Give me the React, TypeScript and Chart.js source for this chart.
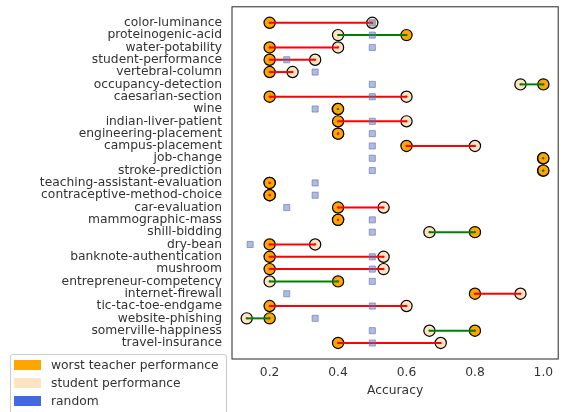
import React, { useEffect, useRef } from 'react';
import Chart from 'chart.js/auto';

const categories = [
  'color-luminance', 'proteinogenic-acid', 'water-potability', 'student-performance',
  'vertebral-column', 'occupancy-detection', 'caesarian-section', 'wine',
  'indian-liver-patient', 'engineering-placement', 'campus-placement', 'job-change',
  'stroke-prediction', 'teaching-assistant-evaluation', 'contraceptive-method-choice',
  'car-evaluation', 'mammographic-mass', 'shill-bidding', 'dry-bean',
  'banknote-authentication', 'mushroom', 'entrepreneur-competency', 'internet-firewall',
  'tic-tac-toe-endgame', 'website-phishing', 'somerville-happiness', 'travel-insurance',
];

const teacherAcc = [
  0.2, 0.6, 0.2, 0.2, 0.2, 1.0, 0.2, 0.4, 0.4, 0.4, 0.6, 1.0, 1.0, 0.2,
  0.2, 0.4, 0.4, 0.8, 0.2, 0.2, 0.2, 0.4, 0.8, 0.2, 0.2, 0.8, 0.4,
];

const studentAcc = [
  0.5, 0.4, 0.4, 0.333, 0.267, 0.933, 0.6, 0.399, 0.6, 0.4, 0.8, 0.999, 0.999, 0.2,
  0.2, 0.533, 0.4, 0.667, 0.333, 0.533, 0.533, 0.2, 0.933, 0.6, 0.133, 0.667, 0.7,
];

const randomAcc = [
  0.5, 0.5, 0.5, 0.25, 0.333, 0.5, 0.5, 0.333, 0.5, 0.5, 0.5, 0.5, 0.5, 0.333,
  0.333, 0.25, 0.5, 0.5, 0.143, 0.5, 0.5, 0.5, 0.25, 0.5, 0.333, 0.5, 0.5,
];

const xTicks = [0.2, 0.4, 0.6, 0.8, 1.0];

const FONT = 'DejaVu Sans';
const TEXT = '#333333';

const legendItems = [
  { label: 'worst teacher performance', color: '#FFA500' },
  { label: 'student performance', color: '#FFE4C4' },
  { label: 'random', color: '#4169E1' },
];

const frame = {
  id: 'frame',
  afterDatasetsDraw(chart: any) {
    const { ctx, chartArea: a } = chart;
    ctx.save();
    ctx.strokeStyle = '#262626';
    ctx.lineWidth = 1;
    ctx.strokeRect(a.left, a.top, a.right - a.left, a.bottom - a.top);
    ctx.restore();
  },
};

const App: React.FC = () => {
  const canvasRef = useRef<HTMLCanvasElement>(null);

  useEffect(() => {
    if (!canvasRef.current) return;

    const lines = categories.map((_, i) => {
      const color = studentAcc[i] < teacherAcc[i] ? '#008000' : '#ff0000';
      return {
        data: [{ x: teacherAcc[i], y: i }, { x: studentAcc[i], y: i }],
        showLine: true,
        borderColor: color,
        borderWidth: 2,
        pointRadius: 1.1,
        pointBorderWidth: 0,
        pointBackgroundColor: color,
        order: 1,
      };
    });

    const chart = new Chart(canvasRef.current, {
      type: 'scatter',
      data: {
        datasets: [
          {
            data: randomAcc.map((v, i) => ({ x: v, y: i })),
            pointStyle: 'rect',
            pointRadius: 4.3,
            backgroundColor: 'rgba(65, 105, 225, 0.45)',
            borderColor: 'rgba(110, 110, 130, 0.6)',
            borderWidth: 1,
            order: 0,
          },
          ...lines,
          {
            data: teacherAcc.map((v, i) => ({ x: v, y: i })),
            pointRadius: 5.6,
            backgroundColor: '#FFA500',
            borderColor: '#000000',
            borderWidth: 1.2,
            order: 2,
          },
          {
            data: studentAcc.map((v, i) => ({ x: v, y: i })),
            pointRadius: 5.6,
            backgroundColor: '#FFE4C4',
            borderColor: '#000000',
            borderWidth: 1.2,
            order: 3,
          },
        ] as any,
      },
      options: {
        animation: false,
        responsive: false,
        events: [],
        clip: false as any,
        layout: { padding: { top: 4, right: 5, left: 0, bottom: 0 } },
        plugins: { legend: { display: false }, tooltip: { enabled: false } },
        scales: {
          x: {
            type: 'linear',
            min: 0.09,
            max: 1.0433,
            grid: { display: false, drawTicks: false },
            border: { display: false },
            afterBuildTicks: (s: any) => { s.ticks = xTicks.map((v) => ({ value: v })); },
            afterFit: (s: any) => {
              s.height = 53;
              s.paddingLeft = 0; s.paddingRight = 0;
            },
            ticks: {
              padding: 6.6,
              color: TEXT,
              font: { family: FONT, size: 12.3 },
              callback: (v: any) => Number(v).toFixed(1),
            },
            title: {
              display: true,
              text: 'Accuracy',
              color: TEXT,
              font: { family: FONT, size: 12.3 },
              padding: { top: 0, bottom: 13.6 },
            },
          },
          y: {
            type: 'linear',
            reverse: true,
            min: -1.3,
            max: categories.length - 1 + 1.3,
            grid: { display: false, drawTicks: false },
            border: { display: false },
            afterBuildTicks: (s: any) => { s.ticks = categories.map((_, i) => ({ value: i })); },
            afterFit: (s: any) => {
              s.width = 232;
              s.paddingTop = 0; s.paddingBottom = 0;
            },
            ticks: {
              padding: 10,
              color: TEXT,
              font: { family: FONT, size: 12.3 },
              autoSkip: false,
              callback: (v: any) => categories[Math.round(Number(v))] ?? '',
            },
          },
        },
      },
      plugins: [frame],
    });

    return () => chart.destroy();
  }, []);

  return (
    <div style={{ position: 'fixed', left: 0, top: 0, width: 565, height: 412, overflow: 'hidden', background: '#fff' }}>
      <canvas ref={canvasRef} width={565} height={412} style={{ width: 565, height: 412 }} />
      <div
        style={{
          position: 'absolute', left: 10, top: 354, width: 217, height: 72,
          boxSizing: 'border-box', border: '1px solid #cccccc', borderRadius: 3,
          background: 'rgba(255,255,255,0.85)', paddingTop: 1,
          fontFamily: FONT, fontSize: 12.3, color: TEXT,
        }}
      >
        {legendItems.map((it) => (
          <div key={it.label} style={{ display: 'flex', alignItems: 'center', height: 18 }}>
            <span style={{ display: 'inline-block', marginLeft: 3, width: 27, height: 9.5, background: it.color }} />
            <span style={{ marginLeft: 10, whiteSpace: 'nowrap' }}>{it.label}</span>
          </div>
        ))}
      </div>
    </div>
  );
};

export default App;
